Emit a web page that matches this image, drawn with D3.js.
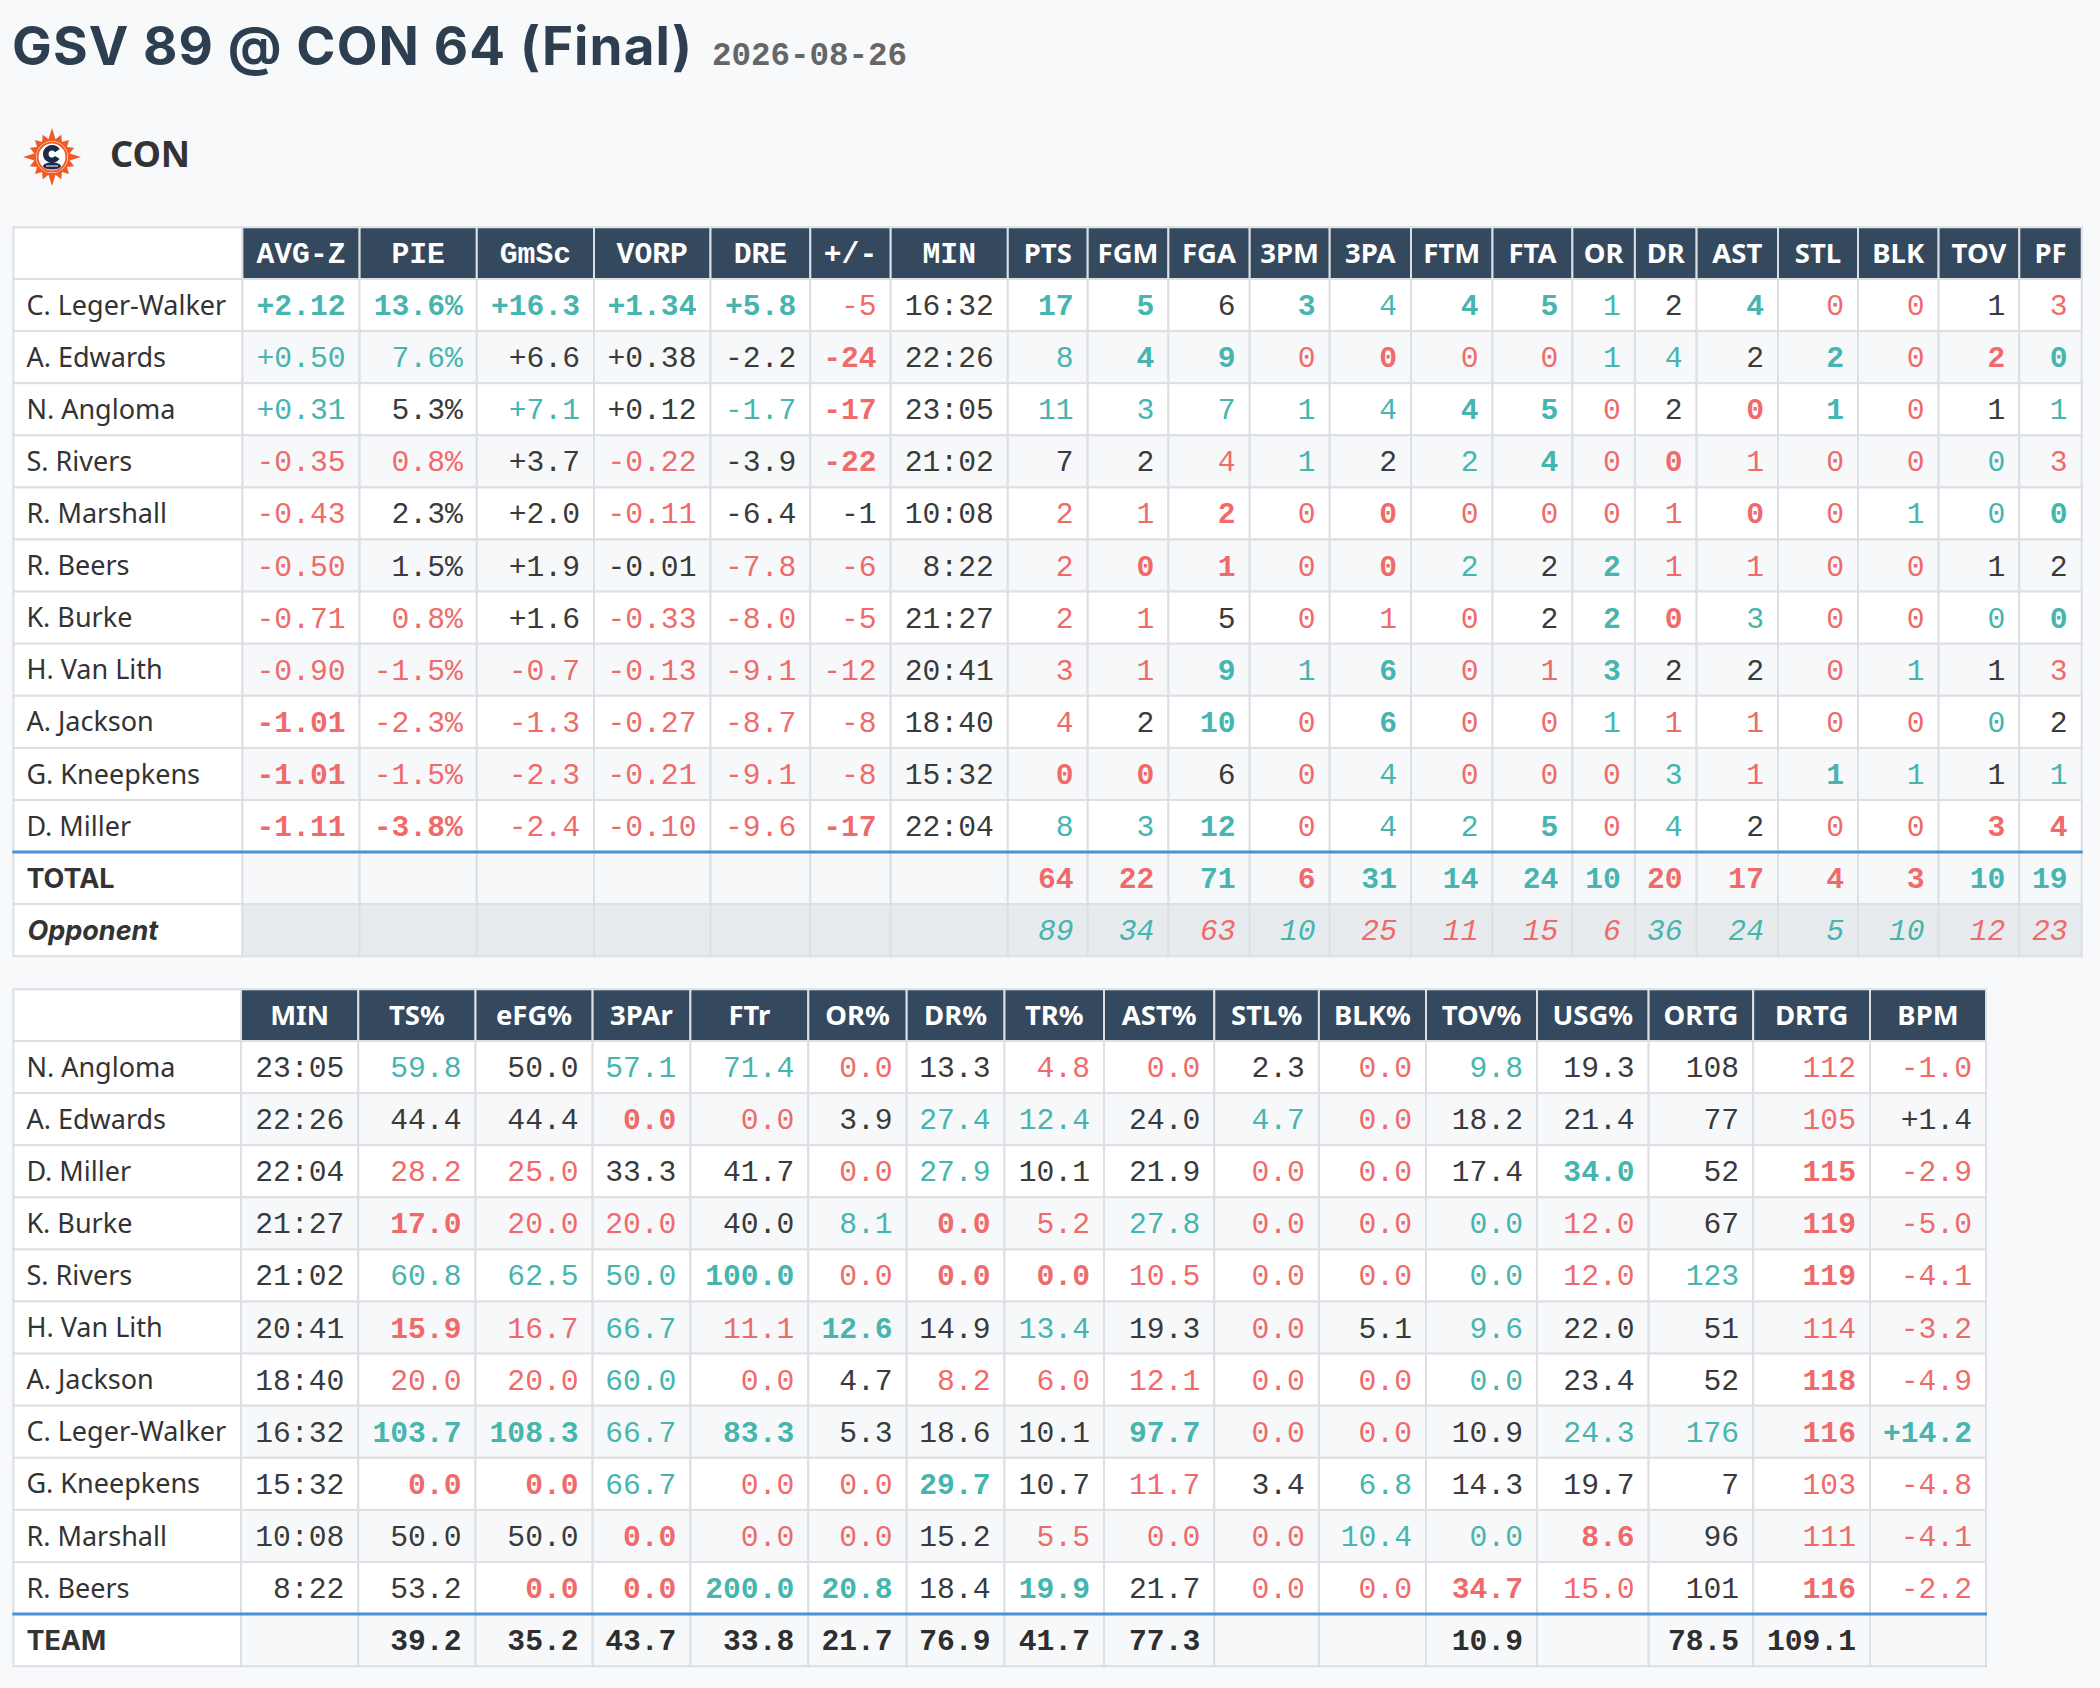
<!DOCTYPE html>
<html>
<head>
<meta charset="utf-8">
<script src="https://cdn.jsdelivr.net/npm/d3@7"></script>
<style>
html, body { margin: 0; padding: 0; background: #f7f9fb; }
svg { display: block; }
</style>
</head>
<body>
<svg id="box" width="2100" height="1688"></svg>
<script>

// game
const gameTitle = "GSV 89 @ CON 64 (Final)"
const gameDate = "2026-08-26"
const teamCode = "CON"

// box score
const cols1 = ["AVG-Z","PIE","GmSc","VORP","DRE","+/-","MIN","PTS","FGM","FGA","3PM","3PA","FTM","FTA","OR","DR","AST","STL","BLK","TOV","PF"]
const players1 = ["C. Leger-Walker","A. Edwards","N. Angloma","S. Rivers","R. Marshall","R. Beers","K. Burke","H. Van Lith","A. Jackson","G. Kneepkens","D. Miller"]
const box1 = [
  ["+2.12","13.6%","+16.3","+1.34","+5.8","-5","16:32","17","5","6","3","4","4","5","1","2","4","0","0","1","3"],
  ["+0.50","7.6%","+6.6","+0.38","-2.2","-24","22:26","8","4","9","0","0","0","0","1","4","2","2","0","2","0"],
  ["+0.31","5.3%","+7.1","+0.12","-1.7","-17","23:05","11","3","7","1","4","4","5","0","2","0","1","0","1","1"],
  ["-0.35","0.8%","+3.7","-0.22","-3.9","-22","21:02","7","2","4","1","2","2","4","0","0","1","0","0","0","3"],
  ["-0.43","2.3%","+2.0","-0.11","-6.4","-1","10:08","2","1","2","0","0","0","0","0","1","0","0","1","0","0"],
  ["-0.50","1.5%","+1.9","-0.01","-7.8","-6","8:22","2","0","1","0","0","2","2","2","1","1","0","0","1","2"],
  ["-0.71","0.8%","+1.6","-0.33","-8.0","-5","21:27","2","1","5","0","1","0","2","2","0","3","0","0","0","0"],
  ["-0.90","-1.5%","-0.7","-0.13","-9.1","-12","20:41","3","1","9","1","6","0","1","3","2","2","0","1","1","3"],
  ["-1.01","-2.3%","-1.3","-0.27","-8.7","-8","18:40","4","2","10","0","6","0","0","1","1","1","0","0","0","2"],
  ["-1.01","-1.5%","-2.3","-0.21","-9.1","-8","15:32","0","0","6","0","4","0","0","0","3","1","1","1","1","1"],
  ["-1.11","-3.8%","-2.4","-0.10","-9.6","-17","22:04","8","3","12","0","4","2","5","0","4","2","0","0","3","4"]
]
// grade per cell: T strong good, t good, n neutral, r poor, R strong poor
const grade1 = [
  "TTTTTrnTTnTtTTtnTrrnr",
  "ttnnnRntTTrRrrttnTrRT",
  "tntntRntttttTTrnRTrnt",
  "rrnrnRnnnrtntTrRrrrtr",
  "rnnrnnnrrRrRrrrrRrttT",
  "rnnnrrnrRRrRtnTrrrrnn",
  "rrnrrrnrrnrrrnTRtrrtT",
  "rrrrrrnrrTtTrrTnnrtnr",
  "RrrrrrnrnTrTrrtrrrrtn",
  "RrrrrrnRRnrtrrrtrTtnt",
  "RRrrrRnttTrttTrtnrrRR"
]
const total1 = ["","","","","","","","64","22","71","6","31","14","24","10","20","17","4","3","10","19"]
const totalGrade1 = "nnnnnnnRRTRTTTTRRRRTT"
const opp1 = ["","","","","","","","89","34","63","10","25","11","15","6","36","24","5","10","12","23"]
const oppGrade1 = "nnnnnnnttrtrrrrttttrr"

// advanced
const cols2 = ["MIN","TS%","eFG%","3PAr","FTr","OR%","DR%","TR%","AST%","STL%","BLK%","TOV%","USG%","ORTG","DRTG","BPM"]
const players2 = ["N. Angloma","A. Edwards","D. Miller","K. Burke","S. Rivers","H. Van Lith","A. Jackson","C. Leger-Walker","G. Kneepkens","R. Marshall","R. Beers"]
const box2 = [
  ["23:05","59.8","50.0","57.1","71.4","0.0","13.3","4.8","0.0","2.3","0.0","9.8","19.3","108","112","-1.0"],
  ["22:26","44.4","44.4","0.0","0.0","3.9","27.4","12.4","24.0","4.7","0.0","18.2","21.4","77","105","+1.4"],
  ["22:04","28.2","25.0","33.3","41.7","0.0","27.9","10.1","21.9","0.0","0.0","17.4","34.0","52","115","-2.9"],
  ["21:27","17.0","20.0","20.0","40.0","8.1","0.0","5.2","27.8","0.0","0.0","0.0","12.0","67","119","-5.0"],
  ["21:02","60.8","62.5","50.0","100.0","0.0","0.0","0.0","10.5","0.0","0.0","0.0","12.0","123","119","-4.1"],
  ["20:41","15.9","16.7","66.7","11.1","12.6","14.9","13.4","19.3","0.0","5.1","9.6","22.0","51","114","-3.2"],
  ["18:40","20.0","20.0","60.0","0.0","4.7","8.2","6.0","12.1","0.0","0.0","0.0","23.4","52","118","-4.9"],
  ["16:32","103.7","108.3","66.7","83.3","5.3","18.6","10.1","97.7","0.0","0.0","10.9","24.3","176","116","+14.2"],
  ["15:32","0.0","0.0","66.7","0.0","0.0","29.7","10.7","11.7","3.4","6.8","14.3","19.7","7","103","-4.8"],
  ["10:08","50.0","50.0","0.0","0.0","0.0","15.2","5.5","0.0","0.0","10.4","0.0","8.6","96","111","-4.1"],
  ["8:22","53.2","0.0","0.0","200.0","20.8","18.4","19.9","21.7","0.0","0.0","34.7","15.0","101","116","-2.2"]
]
const grade2 = [
  "ntnttrnrrnrtnnrr",
  "nnnRrnttntrnnnrn",
  "nrrnnrtnnrrnTnRr",
  "nRrrntRrtrrtrnRr",
  "ntttTrRRrrrtrtRr",
  "nRrtrTntnrntnnrr",
  "nrrtrnrrrrrtnnRr",
  "nTTtTnnnTrrnttRT",
  "nRRtrrTnrntnnnrr",
  "nnnRrrnrrrttRnrr",
  "nnRRTTnTnrrRrnRr"
]
const team2 = ["","39.2","35.2","43.7","33.8","21.7","76.9","41.7","77.3","","","10.9","","78.5","109.1",""]
const teamGrade2 = "BBBBBBBBBBBBBBBB"


const svg = d3.select("#box")
svg.append("rect").attr("width", 2100).attr("height", 1688).attr("fill", "#f7f9fb")

const SANS = "'Noto Sans', sans-serif"
const HEAVY = "Inter, 'Noto Sans', sans-serif"
const MONO = "'Liberation Mono', monospace"
const teal = "#46b5af", red = "#ef6b6b", ink = "#3a3a3a"

const tone = d3.scaleOrdinal().domain(["T","t","n","r","R","B"]).range([teal, teal, ink, red, red, "#2e2e2e"])
const heavy = g => "TRB".includes(g) ? 700 : 400

// title
const head = svg.append("text")
  .attr("x", 12).attr("y", 65)
  .attr("font-family", HEAVY).attr("font-weight", 700).attr("font-size", 53)
  .attr("letter-spacing", 1.1)
  .attr("fill", "#2c3e50")
  .text(gameTitle)
svg.append("text")
  .attr("x", 12 + head.node().getComputedTextLength() + 19).attr("y", 65)
  .attr("font-family", MONO).attr("font-weight", 700).attr("font-size", 32.5)
  .attr("fill", "#666")
  .text(gameDate)

// team logo, rough
const logo = svg.append("g").attr("transform", "translate(52,157)")
const spikes = d3.range(32).map(i => [i * Math.PI / 16, i % 2 ? 18 : (i % 8 == 0 ? 29 : 24)])
logo.append("path")
  .attr("d", d3.lineRadial().curve(d3.curveLinearClosed)(spikes))
  .attr("fill", "#f15a22")
logo.append("circle").attr("r", 16).attr("fill", "#fff")
logo.append("circle").attr("r", 14.5).attr("fill", "none").attr("stroke", "#f15a22").attr("stroke-width", 2)
logo.append("path")
  .attr("transform", "translate(0,-3)")
  .attr("d", d3.arc()({innerRadius: 3.5, outerRadius: 9, startAngle: Math.PI * 0.68, endAngle: Math.PI * 2.32}))
  .attr("fill", "#1d2a4d")
logo.append("ellipse")
  .attr("cy", 9).attr("rx", 9).attr("ry", 3.5)
  .attr("fill", "#1d2a4d")
logo.append("line")
  .attr("x1", -6).attr("x2", 6).attr("y1", 9).attr("y2", 9)
  .attr("stroke", "#fff").attr("stroke-width", 1)
svg.append("text")
  .attr("x", 110).attr("y", 167)
  .attr("font-family", SANS).attr("font-weight", 700).attr("font-size", 36)
  .attr("fill", "#333")
  .text(teamCode)


function drawTable(spec) {
  const g = svg.append("g")
  const keys = ["name", ...spec.cols]
  const edges = [spec.left, ...d3.cumsum(spec.widths).map(v => v + spec.left)]
  const x = d3.scaleOrdinal(keys, edges.slice(0, -1))
  const w = d3.scaleOrdinal(keys, spec.widths)
  const right = edges[edges.length - 1]
  const y = d3.scaleBand(spec.rows.map(r => r.key),
    [spec.top + spec.headH, spec.top + spec.headH + spec.rows.length * spec.rowH])

  // header
  g.selectAll("rect.h").data(keys).join("rect").attr("class", "h")
    .attr("x", d => x(d)).attr("y", spec.top)
    .attr("width", d => w(d)).attr("height", spec.headH)
    .attr("fill", d => d == "name" ? "#fff" : "#34495e")
    .attr("stroke", "#dcdfe3").attr("stroke-width", 2)

  g.selectAll("text.h").data(spec.cols).join("text").attr("class", "h")
    .attr("x", d => x(d) + w(d) / 2)
    .attr("y", spec.top + spec.headH / 2)
    .attr("text-anchor", "middle")
    .attr("dy", (d, i) => i < spec.monoHead ? 9.5 : 9.8)
    .attr("font-family", (d, i) => i < spec.monoHead ? MONO : SANS)
    .attr("font-size", (d, i) => i < spec.monoHead ? 29.7 : 27.5)
    .attr("font-weight", 700)
    .attr("fill", "#fff")
    .text(d => d)

  // body
  const rowG = g.selectAll("g.row").data(spec.rows).join("g").attr("class", "row")
    .attr("transform", r => `translate(0,${y(r.key)})`)

  const cellBg = (r) => r.kind == "opp" ? "#e8ebee"
    : (r.kind == "p" && r.i % 2 == 0) ? "#fff" : "#f6f8fa"

  rowG.append("rect")
    .attr("x", x("name")).attr("width", w("name")).attr("height", y.bandwidth())
    .attr("fill", "#fff").attr("stroke", "#dcdfe3").attr("stroke-width", 2)

  rowG.selectAll("rect.c")
    .data(r => spec.cols.map(c => ({c, r})))
    .join("rect").attr("class", "c")
    .attr("x", d => x(d.c)).attr("width", d => w(d.c)).attr("height", y.bandwidth())
    .attr("fill", d => cellBg(d.r))
    .attr("stroke", "#dcdfe3").attr("stroke-width", 2)

  rowG.append("text")
    .attr("x", r => x("name") + (r.kind == "opp" ? 14 : 13))
    .attr("y", y.bandwidth() / 2 + 9.6)
    .attr("font-family", r => r.kind == "p" ? SANS : HEAVY)
    .attr("font-size", 27)
    .attr("font-weight", r => r.kind == "p" ? 400 : 700)
    .attr("font-style", r => r.kind == "opp" ? "italic" : "normal")
    .attr("fill", "#333")
    .text(r => r.label)

  rowG.selectAll("text.v")
    .data(r => spec.cols.map((c, j) => ({c, v: r.vals[j], gr: r.grades[j], kind: r.kind})))
    .join("text").attr("class", "v")
    .attr("x", d => x(d.c) + w(d.c) - 14)
    .attr("y", y.bandwidth() / 2 + 10)
    .attr("text-anchor", "end")
    .attr("font-family", MONO).attr("font-size", 29.7)
    .attr("font-weight", d => heavy(d.gr))
    .attr("font-style", d => d.kind == "opp" ? "italic" : "normal")
    .attr("fill", d => tone(d.gr))
    .text(d => d.v)

  // divider above totals
  const firstTotal = spec.rows.find(r => r.kind != "p")
  g.append("line")
    .attr("x1", spec.left - 1).attr("x2", right + 1)
    .attr("y1", y(firstTotal.key)).attr("y2", y(firstTotal.key))
    .attr("stroke", "#4a90d9").attr("stroke-width", 3)
}

const rows1 = players1.map((p, i) => ({key: p, label: p, vals: box1[i], grades: grade1[i], kind: "p", i}))
rows1.push({key: "TOTAL", label: "TOTAL", vals: total1, grades: totalGrade1, kind: "total"})
rows1.push({key: "Opponent", label: "Opponent", vals: opp1, grades: oppGrade1, kind: "opp"})

drawTable({
  cols: cols1, rows: rows1, monoHead: 7,
  left: 13.4, top: 227.3, headH: 51.7, rowH: 52.1,
  widths: [229, 117.2, 117.2, 117.2, 116.5, 99.8, 80.4, 117.1, 79.9, 80.7, 81.3, 80, 81.3, 81.5, 79.9, 62.5, 61.7, 81.4, 80, 80.6, 80.7, 62.4]
})

const rows2 = players2.map((p, i) => ({key: p, label: p, vals: box2[i], grades: grade2[i], kind: "p", i}))
rows2.push({key: "TEAM", label: "TEAM", vals: team2, grades: teamGrade2, kind: "team"})

drawTable({
  cols: cols2, rows: rows2, monoHead: 0,
  left: 13.4, top: 989.3, headH: 51.7, rowH: 52.1,
  widths: [227.6, 117.3, 117.2, 117.1, 97.8, 117.9, 98.4, 97.8, 99.5, 110.3, 104.6, 107.1, 111, 111.6, 104.6, 116.8, 116]
})

</script>
</body>
</html>
